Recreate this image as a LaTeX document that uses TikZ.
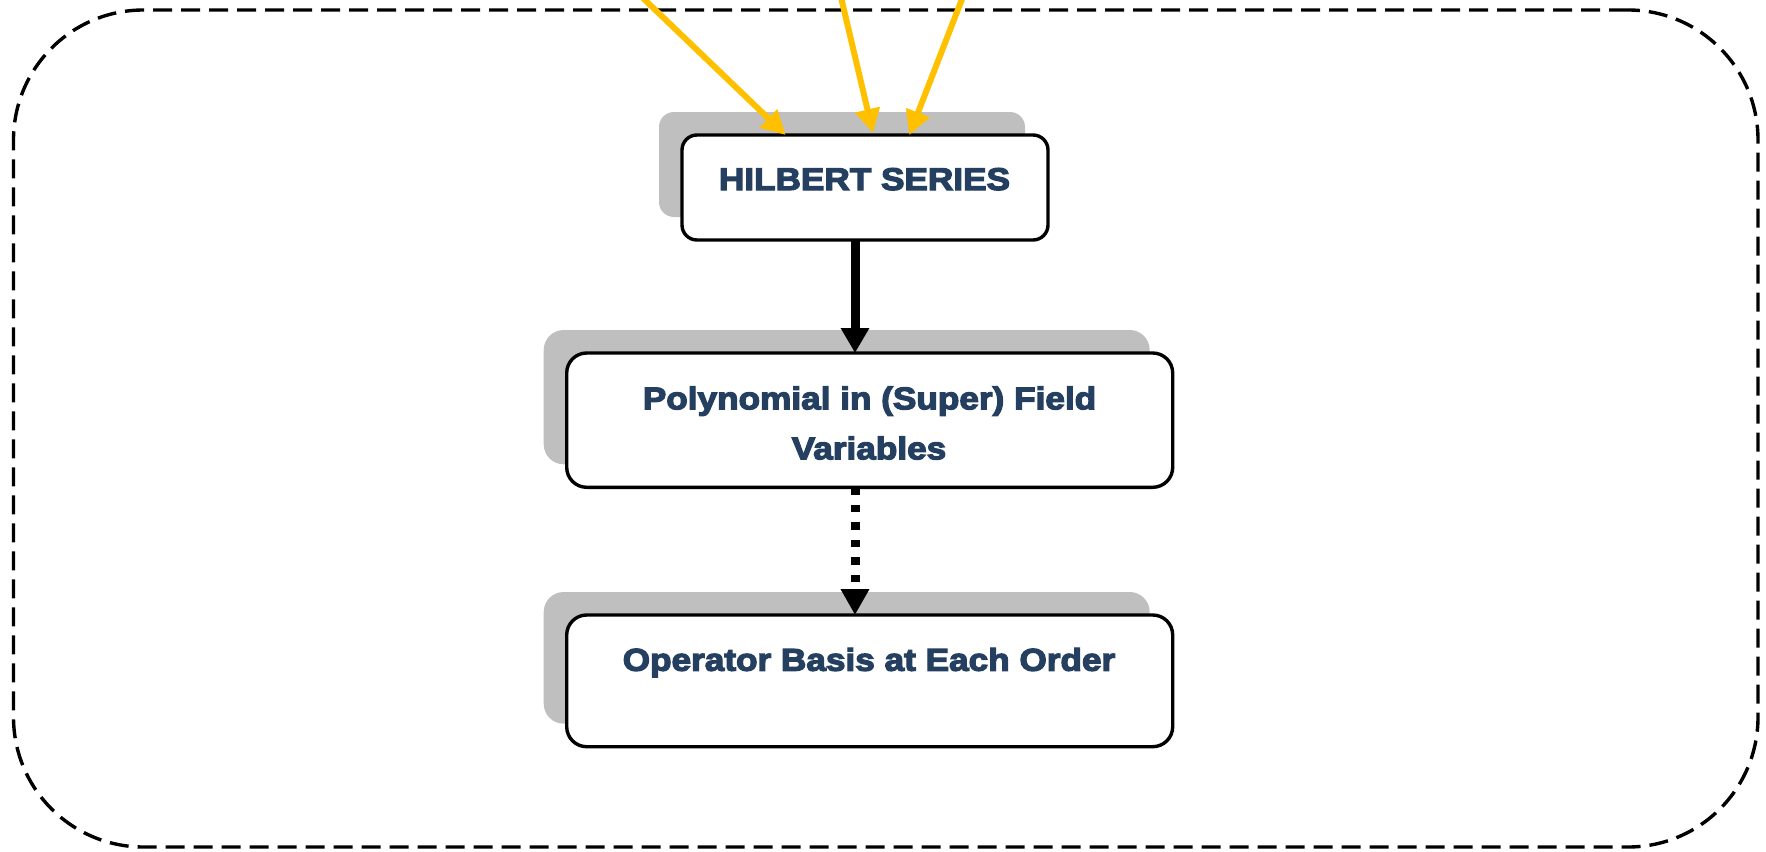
\documentclass[tikz,border=0pt]{standalone}
\usepackage{fontspec}
\newfontfamily\boxfont[FakeStretch=1.12,FakeBold=4]{Liberation Sans}
\usetikzlibrary{arrows.meta,shadows}
\definecolor{navy}{HTML}{243F60}
\definecolor{shadowgray}{HTML}{BFBFBF}
\definecolor{gold}{HTML}{FFC000}
\tikzset{
  box/.style={draw=black, line width=3.4pt, fill=white, inner sep=0pt, outer sep=0pt,
    general shadow={fill=shadowgray, shadow xshift=-23pt, shadow yshift=23pt}},
  lbl/.style={font=\boxfont\bfseries\fontsize{31.4pt}{50pt}\selectfont, text=navy, inner sep=0pt, anchor=base},
  yarrow/.style={draw=gold, line width=6pt, -{Triangle[length=24pt,width=24pt]}},
  solidarrow/.style={draw=black, line width=9pt, -{Triangle[length=25pt,width=27pt]}},
  dotarrow/.style={draw=black, line width=9pt, dash pattern=on 7.5pt off 10pt, -{Triangle[length=26pt,width=27pt]}},
  frame/.style={draw=black, line width=3.4pt, dash pattern=on 19pt off 9pt, rounded corners=130pt, inner sep=0pt, outer sep=0pt}
}
\begin{document}
\begin{tikzpicture}[x=1pt,y=-1pt]
\useasboundingbox (0,0) rectangle (1766,851);
\node[frame, minimum width=1744.5pt, minimum height=837pt] (outer) at (885.75,428.5) {};
% boxes
\node[box, rounded corners=15pt, minimum width=366pt, minimum height=105pt] (hs) at (865,187.5) {};
\node[box, rounded corners=20pt, minimum width=606pt, minimum height=134.3pt] (poly) at (869.7,420.15) {};
\node[box, rounded corners=20pt, minimum width=606pt, minimum height=131.7pt] (ops) at (869.7,680.85) {};
% labels
\node[lbl] (hst) at (864.5,190) {HILBERT SERIES};
\node[lbl] (pt1) at (869.5,409.3) {Polynomial in (Super) Field};
\node[lbl] (pt2) at (869,459.3) {Variables};
\node[lbl] (opt) at (869,670.7) {Operator Basis at Each Order};
% connectors
\draw[solidarrow] ([xshift=-10pt]hs.south) -- ([xshift=-14.7pt]poly.north);
\draw[dotarrow] ([xshift=-14.7pt]poly.south) -- ([xshift=-14.7pt]ops.north);
\coordinate (y1s) at (613.7,-30);
\coordinate (y2s) at (834.6,-30);
\coordinate (y3s) at (973.3,-30);
\draw[yarrow] (y1s) -- ([xshift=-79.3pt]hs.north);
\draw[yarrow] (y2s) -- ([xshift=8pt,yshift=2pt]hs.north);
\draw[yarrow] (y3s) -- ([xshift=44.3pt]hs.north);
\end{tikzpicture}
\end{document}
